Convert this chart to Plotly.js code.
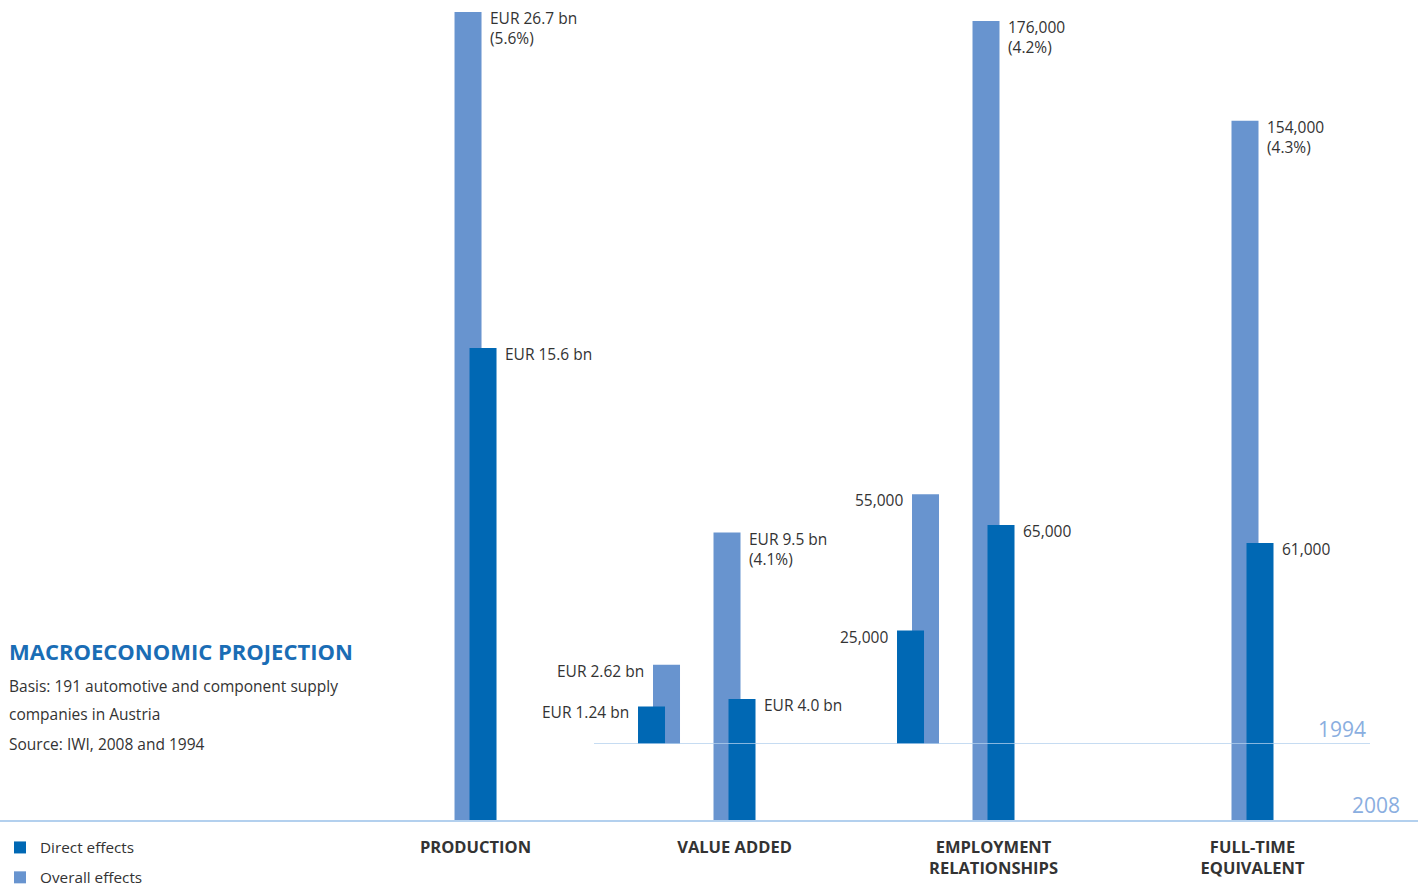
<!DOCTYPE html>
<html>
<head>
<meta charset="utf-8">
<script src="https://cdn.plot.ly/plotly-3.0.1.min.js"></script>
<style>
html,body{margin:0;padding:0;background:#fff;}
#chart{width:1418px;height:886px;}
</style>
</head>
<body>
<div id="chart"></div>
<script>
// ---------------- data ----------------
const categories = ['PRODUCTION', 'VALUE ADDED', 'EMPLOYMENT<br>RELATIONSHIPS', 'FULL-TIME<br>EQUIVALENT'];
const units = ['eur', 'eur', 'persons', 'persons'];

const overall2008 = [26.7, 9.5, 176000, 154000];
const direct2008  = [15.6, 4.0, 65000, 61000];
const overall1994 = [null, 2.62, 55000, null];
const direct1994  = [null, 1.24, 25000, null];

const overall2008Labels = ['EUR 26.7 bn<br>(5.6%)', 'EUR 9.5 bn<br>(4.1%)', '176,000<br>(4.2%)', '154,000<br>(4.3%)'];
const direct2008Labels  = ['EUR 15.6 bn', 'EUR 4.0 bn', '65,000', '61,000'];
const overall1994Labels = [null, 'EUR 2.62 bn', '55,000', null];
const direct1994Labels  = [null, 'EUR 1.24 bn', '25,000', null];

const seriesNames = ['Direct effects', 'Overall effects'];
const yearLabels = ['1994', '2008'];

const titleText = 'MACROECONOMIC PROJECTION';
const noteLines = ['Basis: 191 automotive and component supply', 'companies in Austria', 'Source: IWI, 2008 and 1994'];

// ---------------- layout constants ----------------
const W = 1418, H = 886;
const BASE_2008_PX = 820;   // pixel row of 2008 baseline (from top)
const BASE_1994_PX = 744;   // pixel row of 1994 baseline (from top)
const PX_PER_BN = 30.26;
const PX_PER_PERSON = 0.0045398;
const xRange = [-1.836, 3.639];
const pxPerCat = W / (xRange[1] - xRange[0]);
const BAR_W = 27;

const DARK = '#0068b4', LIGHT = '#6894cf', LINE = '#b3d0ee', YEARC = '#8aaee0', TEXT = '#333333', TITLEC = '#1a6db5';
const FONT = '"Open Sans", "Noto Sans", sans-serif';

const series = [
  {name: seriesNames[1], values: overall1994, labels: overall1994Labels, year: '1994', color: LIGHT, offPx: -81.5, side: 'left',  legend: false, rank: 2},
  {name: seriesNames[0], values: direct1994,  labels: direct1994Labels,  year: '1994', color: DARK,  offPx: -96.5, side: 'left',  legend: false, rank: 1},
  {name: seriesNames[1], values: overall2008, labels: overall2008Labels, year: '2008', color: LIGHT, offPx: -21,   side: 'right', legend: true,  rank: 2},
  {name: seriesNames[0], values: direct2008,  labels: direct2008Labels,  year: '2008', color: DARK,  offPx: -6,    side: 'right', legend: true,  rank: 1}
];

function axisFor(unit, year) {
  if (unit === 'eur') return year === '2008' ? 'y' : 'y2';
  return year === '2008' ? 'y3' : 'y4';
}

const traces = [];
const annotations = [];
series.forEach(s => {
  ['eur', 'persons'].forEach(unit => {
    const idx = categories.map((c, i) => i).filter(i => units[i] === unit && s.values[i] != null);
    if (!idx.length) return;
    const ax = axisFor(unit, s.year);
    traces.push({
      type: 'bar',
      name: s.name,
      legendgroup: s.name,
      legendrank: s.rank,
      showlegend: s.legend && unit === 'eur',
      x: idx.map(i => categories[i]),
      y: idx.map(i => s.values[i]),
      xaxis: 'x',
      yaxis: ax,
      offset: s.offPx / pxPerCat,
      width: BAR_W / pxPerCat,
      marker: {color: s.color, line: {width: 0}},
      hoverinfo: 'x+y+name'
    });
    idx.forEach(i => {
      annotations.push({
        x: i, xref: 'x', y: s.values[i], yref: ax,
        text: s.labels[i], showarrow: false,
        xanchor: s.side === 'right' ? 'left' : 'right',
        align: s.side === 'right' ? 'left' : 'right',
        xshift: s.side === 'right' ? (s.offPx + BAR_W + 6) : (s.offPx - 7),
        yanchor: 'top', yshift: 7,
        font: {family: FONT, size: 15.5, color: TEXT}
      });
    });
  });
});

// year labels
annotations.push({x: 1368 / W, xref: 'paper', y: 0, yref: 'y2', text: yearLabels[0], showarrow: false,
  xanchor: 'right', yanchor: 'bottom', yshift: -1, font: {family: FONT, size: 21, color: YEARC}});
annotations.push({x: 1402 / W, xref: 'paper', y: 0, yref: 'y', text: yearLabels[1], showarrow: false,
  xanchor: 'right', yanchor: 'bottom', yshift: -1, font: {family: FONT, size: 21, color: YEARC}});

// title & notes
annotations.push({x: 7 / W, xref: 'paper', y: (H - 651) / H, yref: 'paper', text: '<b>' + titleText + '</b>', showarrow: false,
  xanchor: 'left', yanchor: 'middle', font: {family: FONT, size: 22, color: TITLEC}});
const noteY = [686, 714, 744];
noteLines.forEach((t, k) => {
  annotations.push({x: 7 / W, xref: 'paper', y: (H - noteY[k]) / H, yref: 'paper', text: t, showarrow: false,
    xanchor: 'left', yanchor: 'middle', font: {family: FONT, size: 15.5, color: TEXT}});
});

const d2008 = [(H - BASE_2008_PX) / H, 1];
const d1994 = [(H - BASE_1994_PX) / H, 1];
const hiddenY = {visible: false, showgrid: false, zeroline: false, fixedrange: true, anchor: 'x', automargin: false};

const layout = {
  width: W, height: H,
  margin: {l: 0, r: 0, t: 0, b: 0, pad: 0, autoexpand: false},
  paper_bgcolor: '#ffffff', plot_bgcolor: 'rgba(0,0,0,0)',
  barmode: 'overlay',
  font: {family: FONT, color: TEXT},
  xaxis: {
    type: 'category', categoryorder: 'array', categoryarray: categories,
    range: xRange, domain: [0, 1], anchor: 'y',
    showline: true, linecolor: LINE, linewidth: 1.5,
    showgrid: false, zeroline: false, ticks: '',
    tickfont: {family: FONT, size: 16.5, color: TEXT, weight: 'bold'},
    ticklabelstandoff: 11,
    automargin: false,
    fixedrange: true
  },
  yaxis:  Object.assign({domain: d2008, range: [0, BASE_2008_PX / PX_PER_BN]}, hiddenY),
  yaxis2: Object.assign({domain: d1994, range: [0, BASE_1994_PX / PX_PER_BN]}, hiddenY),
  yaxis3: Object.assign({domain: d2008, range: [0, BASE_2008_PX / PX_PER_PERSON], overlaying: 'y'}, hiddenY),
  yaxis4: Object.assign({domain: d1994, range: [0, BASE_1994_PX / PX_PER_PERSON], overlaying: 'y2'}, hiddenY),
  shapes: [{type: 'line', xref: 'paper', x0: 594 / W, x1: 1370 / W, yref: 'y2', y0: 0, y1: 0,
            line: {color: LINE, width: 1.5}, layer: 'above'}],
  annotations: annotations,
  showlegend: true,
  legend: {
    x: 0, xanchor: 'left', y: (H - 831) / H, yanchor: 'top',
    orientation: 'v', traceorder: 'grouped', tracegroupgap: 7,
    font: {family: FONT, size: 15.3, color: TEXT},
    bgcolor: 'rgba(0,0,0,0)', borderwidth: 0
  },
  hovermode: 'closest'
};

Plotly.newPlot('chart', traces, layout, {displayModeBar: false, responsive: false});
</script>
</body>
</html>
